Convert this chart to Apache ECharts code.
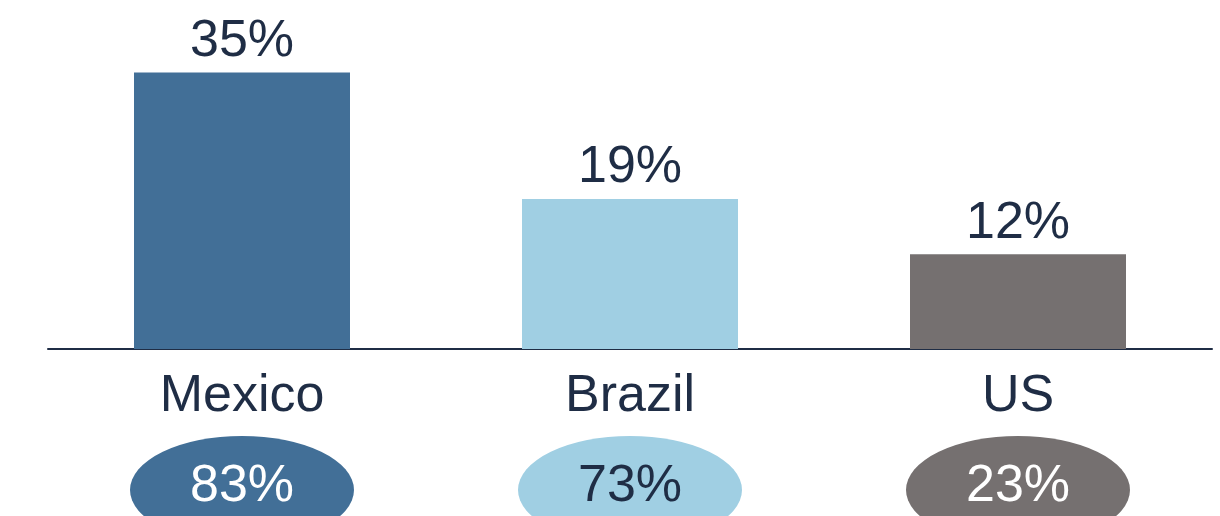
<!DOCTYPE html>
<html>
<head>
<meta charset="utf-8">
<script src="https://cdn.jsdelivr.net/npm/echarts@6/dist/echarts.min.js"></script>
<style>
  html, body { margin: 0; padding: 0; background: #fff; }
  #chart { width: 1220px; height: 516px; }
</style>
</head>
<body>
<div id="chart"></div>
<script>
const countries = ['Mexico', 'Brazil', 'US']
const barValues = [35, 19, 12]
const sharePct = [83, 73, 23]
const colors = ['#426F97', '#A0CFE3', '#757070']
const shareTextColors = ['#ffffff', '#1F2D45', '#ffffff']

const navy = '#1F2D45'
const font = 'Liberation Sans, Arial, sans-serif'

const chart = echarts.init(document.getElementById('chart'))

chart.setOption({
  animation: false,
  grid: [
    { left: 48, right: 8, top: 33, bottom: 167 },
    { left: 48, right: 8, top: 464, bottom: 0 }
  ],
  xAxis: [
    {
      type: 'category',
      gridIndex: 0,
      data: countries,
      axisLine: { lineStyle: { color: navy, width: 2 } },
      axisTick: { show: false },
      axisLabel: { color: navy, fontSize: 52, fontFamily: font, margin: 22 }
    },
    {
      type: 'category',
      gridIndex: 1,
      data: countries,
      show: false
    }
  ],
  yAxis: [
    { type: 'value', gridIndex: 0, min: 0, max: 40, show: false },
    { type: 'value', gridIndex: 1, min: 0, max: 2, show: false }
  ],
  series: [
    {
      type: 'bar',
      xAxisIndex: 0,
      yAxisIndex: 0,
      barWidth: 216,
      data: barValues.map((v, i) => ({ value: v, itemStyle: { color: colors[i] } })),
      label: {
        show: true,
        position: 'top',
        distance: 5,
        color: navy,
        fontSize: 52,
        fontFamily: font,
        formatter: p => p.value + '%'
      }
    },
    {
      type: 'scatter',
      xAxisIndex: 1,
      yAxisIndex: 1,
      symbol: 'circle',
      symbolSize: [224, 108],
      itemStyle: { opacity: 1 },
      data: sharePct.map((v, i) => ({
        value: [i, 1],
        itemStyle: { color: colors[i], opacity: 1 },
        label: { color: shareTextColors[i] }
      })),
      label: {
        show: true,
        position: 'inside',
        fontSize: 52,
        fontFamily: font,
        offset: [0, -3],
        formatter: p => sharePct[p.dataIndex] + '%'
      }
    }
  ]
})

window.addEventListener('resize', () => chart.resize())
</script>
</body>
</html>
